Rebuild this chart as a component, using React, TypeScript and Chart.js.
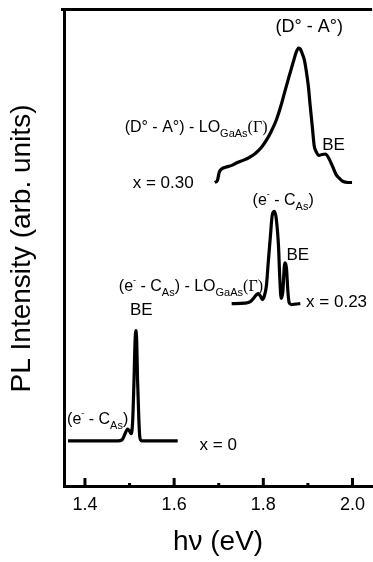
import React, { useEffect, useRef } from "react";
import { Chart, registerables } from "chart.js";

Chart.register(...registerables);

// ---- data (photon energy in eV, PL intensity in arb. units, offset per composition) ----
const energyX0 = [1.362, 1.434, 1.474, 1.483, 1.489, 1.496, 1.501, 1.504, 1.507, 1.51, 1.512, 1.514, 1.516, 1.518, 1.521, 1.523, 1.527, 1.568, 1.608];
const intensityX0 = [9.5, 9.5, 9.5, 9.7, 10.8, 12.0, 11.4, 11.0, 13.7, 22.2, 29.5, 32.7, 30.6, 22.2, 13.7, 10.3, 9.5, 9.5, 9.5];

const energyX23 = [1.729, 1.758, 1.771, 1.778, 1.785, 1.789, 1.794, 1.798, 1.802, 1.807, 1.811, 1.816, 1.82, 1.825, 1.829, 1.834, 1.837, 1.84, 1.844, 1.847, 1.849, 1.852, 1.855, 1.858, 1.863, 1.872, 1.883];
const intensityX23 = [38.4, 38.5, 38.8, 39.5, 40.3, 40.5, 39.9, 39.3, 39.9, 42.2, 47.0, 52.7, 57.0, 57.8, 56.3, 50.6, 43.7, 39.5, 41.1, 46.2, 47.0, 45.8, 41.1, 38.6, 38.2, 38.3, 38.4];

const energyX30 = [1.691, 1.697, 1.701, 1.706, 1.715, 1.729, 1.742, 1.756, 1.769, 1.782, 1.796, 1.807, 1.818, 1.829, 1.84, 1.849, 1.858, 1.867, 1.874, 1.879, 1.883, 1.887, 1.892, 1.896, 1.901, 1.905, 1.91, 1.914, 1.919, 1.925, 1.932, 1.939, 1.943, 1.95, 1.957, 1.963, 1.97, 1.979, 1.99, 1.999];
const intensityX30 = [63.9, 64.3, 66.0, 66.7, 67.1, 67.5, 68.1, 68.6, 69.2, 70.0, 71.3, 72.8, 74.7, 77.0, 80.2, 83.3, 86.3, 89.2, 91.4, 92.2, 92.0, 91.1, 89.7, 87.6, 84.2, 80.2, 75.5, 71.7, 70.3, 69.6, 69.8, 69.9, 69.6, 68.4, 66.9, 65.6, 64.8, 64.1, 63.9, 63.9];

const xMajorTicks = [1.4, 1.6, 1.8, 2.0];
const xMinorTicks = [1.5, 1.7, 1.9];
const xMin = 1.353;
const xMax = 2.044;
const yMin = 0;
const yMax = 100;

const xTitle = "h\u03bd (eV)";
const yTitle = "PL Intensity (arb. units)";

const SANS = "'Liberation Sans', Arial, Helvetica, sans-serif";
const SERIF = "'Liberation Serif', 'Times New Roman', serif";

type Run = { t: string; size: number; dy?: number; serif?: boolean };
type Note = { x: number; y: number; align?: "left" | "center"; runs: Run[] };

const loTail: Run[] = [
  { t: " - LO", size: 16 },
  { t: "GaAs", size: 11, dy: 5 },
  { t: "(\u0393)", size: 16, serif: true },
];
const eCAs = (size: number): Run[] => [
  { t: "(e", size },
  { t: "-", size: 9, dy: -8 },
  { t: " - C", size },
  { t: "As", size: 11, dy: 5 },
  { t: ")", size },
];

const notes: Note[] = [
  { x: 1.903, y: 95.6, align: "center", runs: [{ t: "(D\u00b0 - A\u00b0)", size: 18 }] },
  { x: 1.489, y: 74.5, runs: [{ t: "(D\u00b0 - A\u00b0)", size: 16 }, ...loTail] },
  { x: 1.932, y: 70.7, runs: [{ t: "BE", size: 17 }] },
  { x: 1.507, y: 62.7, runs: [{ t: "x = 0.30", size: 17 }] },
  { x: 1.776, y: 59.1, runs: eCAs(16) },
  { x: 1.852, y: 47.5, runs: [{ t: "BE", size: 17 }] },
  { x: 1.476, y: 41.1, runs: [...eCAs(16), ...loTail] },
  { x: 1.896, y: 37.6, runs: [{ t: "x = 0.23", size: 17 }] },
  { x: 1.501, y: 35.9, runs: [{ t: "BE", size: 17 }] },
  { x: 1.36, y: 13.1, runs: eCAs(16) },
  { x: 1.657, y: 7.6, runs: [{ t: "x = 0", size: 17 }] },
];

const runFont = (r: Run) => `${r.size}px ${r.serif ? SERIF : SANS}`;

const notesPlugin = {
  id: "notes",
  afterDatasetsDraw(chart: any) {
    const { ctx, scales } = chart;
    const xs = scales.x;
    const ys = scales.y;
    ctx.save();
    ctx.fillStyle = "#000";
    ctx.textAlign = "left";
    ctx.textBaseline = "alphabetic";
    for (const n of notes) {
      const widths = n.runs.map((r) => {
        ctx.font = runFont(r);
        return ctx.measureText(r.t).width;
      });
      const total = widths.reduce((a, b) => a + b, 0);
      let px = xs.getPixelForValue(n.x) - (n.align === "center" ? total / 2 : 0);
      const py = ys.getPixelForValue(n.y);
      n.runs.forEach((r, i) => {
        ctx.font = runFont(r);
        ctx.fillText(r.t, px, py + (r.dy || 0));
        px += widths[i];
      });
    }
    ctx.restore();
  },
};

const frameTicksPlugin = {
  id: "frameTicks",
  afterDraw(chart: any) {
    const { ctx, chartArea, scales } = chart;
    const xs = scales.x;
    const base = chartArea.bottom;
    ctx.save();
    ctx.fillStyle = "#000";
    // top frame line
    ctx.fillRect(chartArea.left - 3, chartArea.top - 3, chartArea.right - chartArea.left + 3, 3);
    for (const v of xMajorTicks) {
      const px = xs.getPixelForValue(v);
      ctx.fillRect(px - 1.5, base - 8, 3, 9);
    }
    for (const v of xMinorTicks) {
      const px = xs.getPixelForValue(v);
      ctx.fillRect(px - 1.5, base - 3, 3, 4);
    }
    ctx.restore();
  },
};

const lineStyle = {
  borderColor: "#000",
  borderWidth: 3.2,
  pointRadius: 0,
  fill: false,
  cubicInterpolationMode: "monotone" as const,
};

export default function App() {
  const canvasRef = useRef<HTMLCanvasElement | null>(null);

  useEffect(() => {
    const canvas = canvasRef.current;
    if (!canvas) return;
    const toPoints = (xs: number[], ys: number[]) => xs.map((x, i) => ({ x, y: ys[i] }));
    const chart = new Chart(canvas, {
      type: "line",
      data: {
        datasets: [
          { label: "x = 0", data: toPoints(energyX0, intensityX0), ...lineStyle },
          { label: "x = 0.23", data: toPoints(energyX23, intensityX23), ...lineStyle },
          { label: "x = 0.30", data: toPoints(energyX30, intensityX30), ...lineStyle },
        ],
      },
      options: {
        animation: false,
        responsive: false,
        devicePixelRatio: 1,
        layout: { padding: { top: 11, left: 0, right: 0, bottom: 0 } },
        plugins: {
          legend: { display: false },
          tooltip: { enabled: false },
        },
        scales: {
          x: {
            type: "linear",
            position: "bottom",
            min: xMin,
            max: xMax,
            afterBuildTicks: (s: any) => {
              s.ticks = xMajorTicks.map((v) => ({ value: v }));
            },
            grid: { drawOnChartArea: false, drawTicks: false },
            border: { display: true, width: 3, color: "#000" },
            ticks: {
              autoSkip: false,
              maxRotation: 0,
              padding: 8,
              color: "#000",
              font: { family: SANS, size: 18 },
              callback: (v: any) => Number(v).toFixed(1),
            },
            title: {
              display: true,
              text: xTitle,
              color: "#000",
              font: { family: SANS, size: 28 },
              padding: { top: 1.8, bottom: 3 },
            },
          },
          y: {
            type: "linear",
            position: "left",
            min: yMin,
            max: yMax,
            grid: { drawOnChartArea: false, drawTicks: false },
            border: { display: true, width: 3, color: "#000" },
            ticks: { display: false },
            title: {
              display: true,
              text: yTitle,
              color: "#000",
              font: { family: SANS, size: 28 },
              padding: { top: 5.2, bottom: 25.2 },
            },
          },
        },
      } as any,
      plugins: [notesPlugin, frameTicksPlugin],
    });
    return () => chart.destroy();
  }, []);

  return (
    <div style={{ position: "fixed", left: 0, top: 0, width: 373, height: 562, background: "#fff" }}>
      <canvas ref={canvasRef} width={373} height={562} style={{ display: "block", width: 373, height: 562 }} />
    </div>
  );
}
